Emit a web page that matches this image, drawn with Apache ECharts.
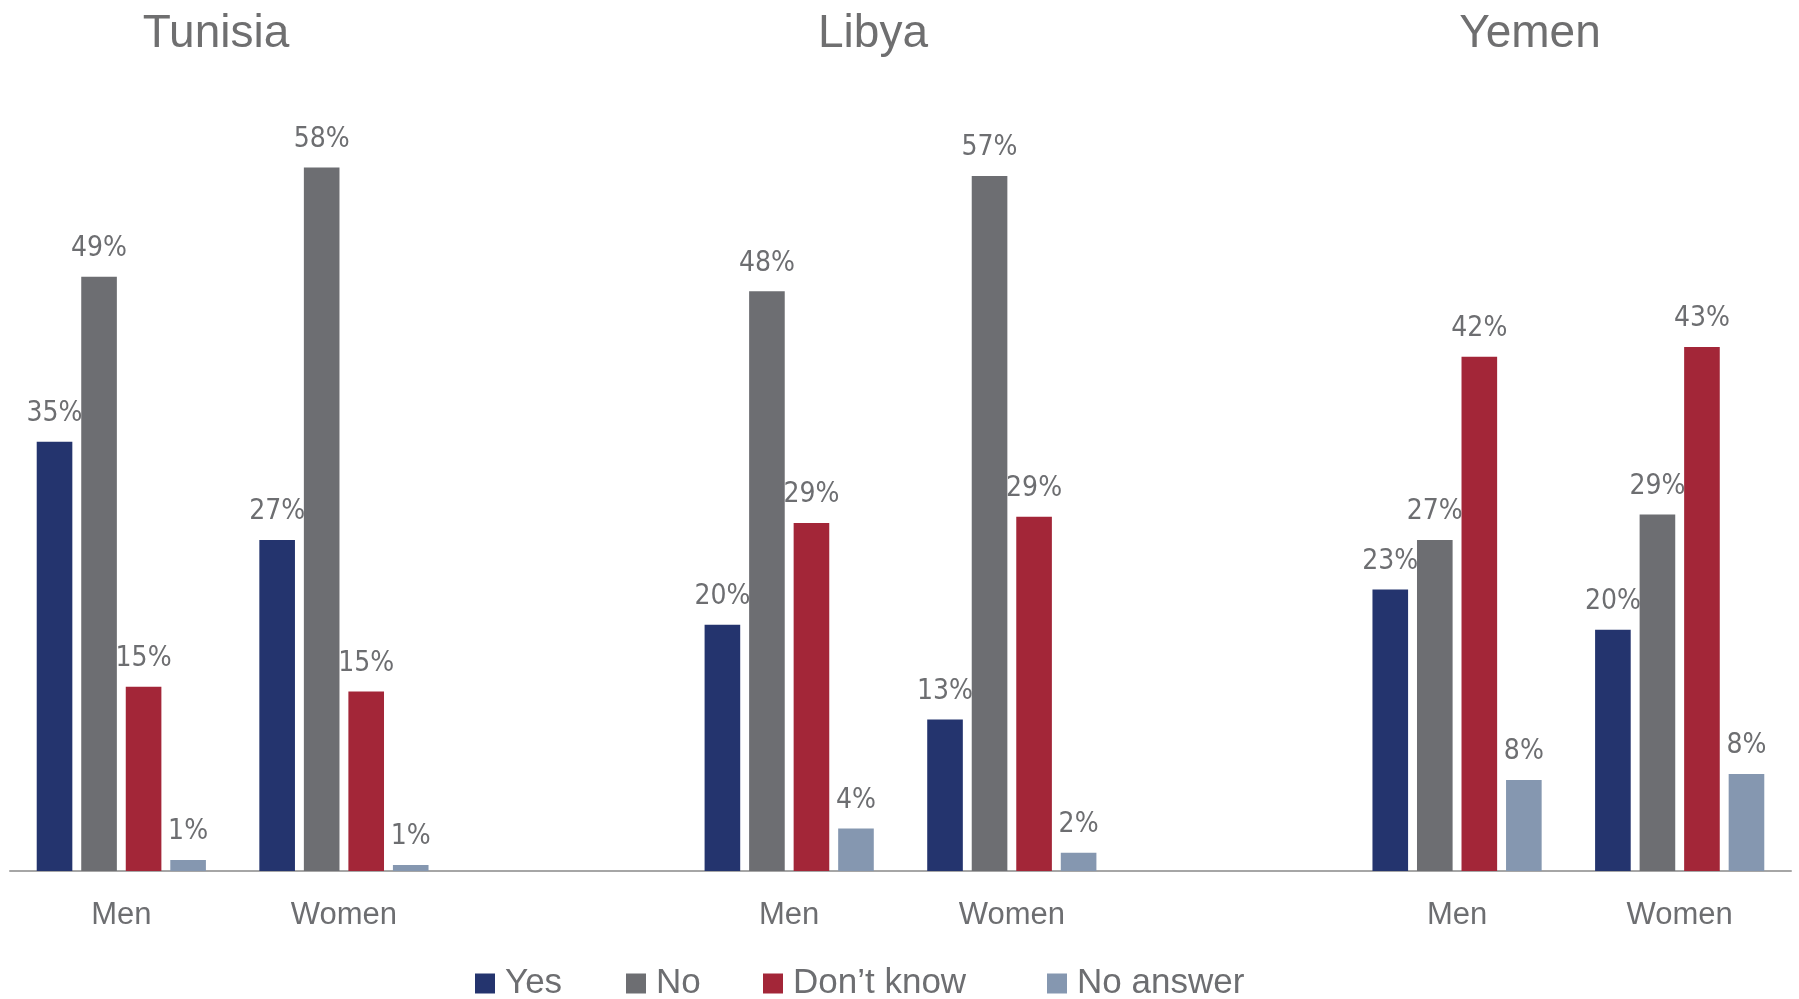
<!DOCTYPE html>
<html>
<head>
<meta charset="utf-8">
<script src="https://cdn.jsdelivr.net/npm/echarts@6/dist/echarts.min.js"></script>
<style>
html,body{margin:0;padding:0;background:#fff;}
#chart{width:1799px;height:999px;}
</style>
</head>
<body>
<div id="chart"></div>
<script>
// ---- data ----
const countries = ['Tunisia', 'Libya', 'Yemen'];
const genders = ['Men', 'Women'];
// category slots: Men, Women, (gap) for each country
const categories = ['Tunisia|Men', 'Tunisia|Women', 'gap1', 'Libya|Men', 'Libya|Women', 'gap2', 'Yemen|Men', 'Yemen|Women'];
const seriesNames = ['Yes', 'No', 'Don\u2019t know', 'No answer'];
const yesValues      = [35.4, 27.3, null, 20.3, 12.5, null, 23.2, 19.9];
const noValues       = [49.0, 58.0, null, 47.8, 57.3, null, 27.3, 29.4];
const dontKnowValues = [15.2, 14.8, null, 28.7, 29.2, null, 42.4, 43.2];
const noAnswerValues = [0.9, 0.5, null, 3.5, 1.5, null, 7.5, 8.0];

// ---- styles / layout ----
const colors = ['#24346e', '#6d6e72', '#a32638', '#8597b0'];
const textGray = '#6d6e71';
const titleX = [216, 873, 1530];
const legendLeft = [475, 626, 763, 1047];

const chart = echarts.init(document.getElementById('chart'), null, {renderer: 'canvas'});
const allValues = [yesValues, noValues, dontKnowValues, noAnswerValues];

const option = {
  animation: false,
  backgroundColor: '#ffffff',
  graphic: countries.map((c, i) => ({
    type: 'text',
    x: titleX[i],
    y: 34,
    style: {
      text: c,
      fill: '#6f6f70',
      fontSize: 46,
      fontFamily: '"Liberation Sans", Arial, sans-serif',
      align: 'center',
      verticalAlign: 'middle'
    }
  })),
  legend: seriesNames.map((n, i) => ({
    data: [n],
    left: legendLeft[i],
    top: 966,
    padding: 0,
    itemWidth: 20,
    itemHeight: 20,
    icon: 'rect',
    selectedMode: false,
    textStyle: {
      fontSize: 35,
      color: textGray,
      fontFamily: '"Liberation Sans", Arial, sans-serif',
      padding: [0, 0, 0, 5]
    }
  })),
  grid: {left: 10, right: 8, top: 22, bottom: 128, containLabel: false},
  xAxis: {
    type: 'category',
    data: categories,
    axisTick: {show: false},
    axisLine: {show: true, lineStyle: {color: '#a6a6a6', width: 2}},
    axisLabel: {
      interval: 0,
      margin: 29,
      fontSize: 31,
      color: textGray,
      fontFamily: '"Liberation Sans", Arial, sans-serif',
      formatter: v => (v.indexOf('|') >= 0 ? v.split('|')[1] : '')
    }
  },
  yAxis: {
    type: 'value',
    min: 0,
    max: 70,
    show: false,
    splitLine: {show: false}
  },
  series: seriesNames.map((n, i) => ({
    name: n,
    type: 'bar',
    data: allValues[i],
    barGap: '25%',
    barCategoryGap: '24%',
    itemStyle: {color: colors[i]},
    label: {
      show: true,
      position: 'top',
      distance: 14,
      fontSize: 28,
      color: textGray,
      fontFamily: '"Liberation Sans Narrow", "DejaVu Sans Condensed", "Liberation Sans", sans-serif',
      formatter: p => (p.value == null ? '' : Math.round(p.value) + '%')
    }
  }))
};
chart.setOption(option);
</script>
</body>
</html>
